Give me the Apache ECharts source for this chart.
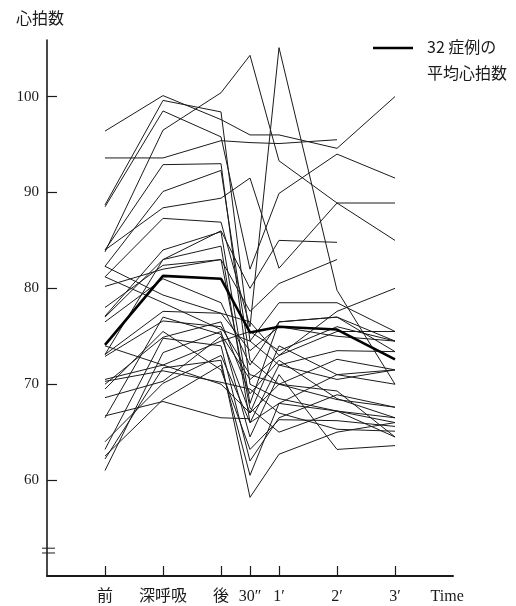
<!DOCTYPE html>
<html>
<head>
<meta charset="utf-8">
<script src="https://cdn.jsdelivr.net/npm/echarts@6/dist/echarts.min.js"></script>
<style>
  html, body { margin: 0; padding: 0; background: #fff; }
  #chart { width: 516px; height: 606px; }
</style>
</head>
<body>
<div id="chart"></div>
<script>
// Measurement times: minutes relative to the end of deep breathing (後 = 0)
const timePoints = [-2, -1, 0, 0.5, 1, 2, 3];
const tickLabels = ['前', '深呼吸', '後', '30″', '1′', '2′', '3′'];
const timeTitle = 'Time';
const timeTitlePos = 3.9;
const yTickValues = [60, 70, 80, 90, 100];

// Mean heart rate over the 32 cases
const meanRate = [74.1, 81.3, 81.0, 75.4, 76.0, 75.7, 72.6];

// Heart rate of each case: 前, 深呼吸, 後, 30″, 1′, 2′, 3′ (null = not measured)
const caseRates = [
  [96.4, 100.1, 97.6, 96.0, 96.0, 94.6, 100.0],
  [88.7, 99.6, 98.4, 74.5, 72.0, 70.5, 71.5],
  [83.8, 96.5, 100.4, 104.3, 93.3, 88.9, 85.0],
  [93.6, 93.6, 95.4, 95.2, 95.1, 95.5, null],
  [88.5, 98.5, 95.8, 82.0, 89.9, 94.0, 91.5],
  [84.0, 92.9, 93.0, 70.0, 68.5, 67.2, 66.0],
  [84.0, 88.4, 89.4, 91.5, 82.1, 88.9, 88.9],
  [82.3, 90.1, 92.3, 72.5, 70.0, 68.4, 67.6],
  [81.2, 87.3, 86.9, 76.0, 105.1, 79.8, 70.0],
  [77.1, 84.0, 85.9, 68.0, 76.5, 77.0, 74.5],
  [73.1, 83.0, 84.4, 66.0, 72.0, 73.5, 73.4],
  [82.3, 79.3, 77.4, 76.5, 73.0, 77.6, 80.0],
  [81.2, 78.5, 75.7, 74.5, 78.5, 78.5, 75.5],
  [80.2, 82.0, 83.0, 67.5, 65.0, 67.2, 66.5],
  [78.0, 82.4, 83.0, 77.6, 80.5, 83.0, null],
  [73.1, 77.6, 77.4, 73.5, 76.0, 75.0, 74.5],
  [72.9, 76.6, 76.0, 71.0, 70.0, 72.6, 71.5],
  [70.3, 71.4, 70.2, 69.5, 67.0, 65.3, 65.1],
  [68.6, 70.3, 75.0, 67.0, 74.0, 71.0, 70.0],
  [66.7, 68.2, 66.5, 66.4, null, null, null],
  [63.2, 74.8, 74.0, 62.0, 66.5, 68.9, 67.6],
  [62.2, 71.7, 72.5, 58.2, 62.7, 65.0, 66.0],
  [61.0, 73.3, 75.5, 64.5, 71.0, 63.2, 63.6],
  [69.5, 75.5, 71.5, 63.2, 66.3, 66.2, 65.6],
  [74.0, 72.0, 70.0, 67.0, 70.0, 69.3, 64.5],
  [70.0, 74.9, 76.5, 69.0, 72.5, 68.5, 66.5],
  [66.5, 77.0, 75.2, 70.5, 73.0, 75.5, 75.5],
  [64.0, 70.1, 73.0, 66.0, 68.0, 71.0, 71.5],
  [76.5, 81.0, 78.5, 72.0, 76.5, 77.0, 73.4],
  [62.5, 68.4, 72.0, 60.5, 68.0, 67.2, 64.5],
  [77.0, 83.0, 86.0, 80.0, 85.0, 84.8, null],
  [70.5, 72.0, 74.5, 75.5, 73.5, 76.0, 74.5]
];

const toPairs = vals => timePoints
  .map((t, i) => [t, vals[i]])
  .filter(p => p[1] !== null);

const ink = '#1b1b1b';
const serif = '"Liberation Serif", "Noto Sans CJK JP", serif';
const cjk = '"Noto Sans CJK JP", sans-serif';

const series = caseRates.map((vals, k) => ({
  name: 'case' + (k + 1),
  type: 'line',
  data: toPairs(vals),
  symbol: 'none',
  silent: true,
  lineStyle: { color: ink, width: 1 },
  z: 2
}));
series.push({
  name: 'mean',
  type: 'line',
  data: toPairs(meanRate),
  symbol: 'none',
  silent: true,
  lineStyle: { color: '#000', width: 2.6 },
  z: 3
});

const chart = echarts.init(document.getElementById('chart'), null, { renderer: 'canvas' });
chart.setOption({
  animation: false,
  backgroundColor: '#fff',
  title: {
    text: '心拍数', left: 11, top: 5,
    textStyle: { fontFamily: cjk, fontSize: 16, fontWeight: 'normal', color: ink }
  },
  grid: { left: 47, right: 63, top: 40, bottom: 30 },
  xAxis: {
    type: 'value', min: -3, max: 4,
    splitLine: { show: false },
    axisLine: { onZero: false, lineStyle: { color: ink, width: 2 } },
    axisTick: {
      customValues: timePoints, inside: true, length: 10,
      lineStyle: { color: ink, width: 1.2 }
    },
    axisLabel: {
      customValues: timePoints.concat([timeTitlePos]),
      margin: 13,
      fontFamily: serif, fontSize: 16, color: ink,
      formatter: v => {
        const i = timePoints.indexOf(v);
        return i >= 0 ? tickLabels[i] : timeTitle;
      }
    }
  },
  yAxis: {
    type: 'value', min: 50, max: 105.9,
    splitLine: { show: false },
    axisLine: { onZero: false, lineStyle: { color: ink, width: 1.6 } },
    axisTick: {
      customValues: yTickValues, inside: true, length: 10,
      lineStyle: { color: ink, width: 1.2 }
    },
    axisLabel: {
      customValues: yTickValues, margin: 8,
      fontFamily: serif, fontSize: 15, color: ink
    }
  },
  series: series
});

// Axis break mark near the bottom of the value axis, plus the legend entry
const p1 = chart.convertToPixel({ gridIndex: 0 }, [-3, 52.9]);
const p2 = chart.convertToPixel({ gridIndex: 0 }, [-3, 52.4]);
chart.setOption({
  graphic: [
    { type: 'line', shape: { x1: p1[0] - 5, y1: p1[1], x2: p1[0] + 8, y2: p1[1] },
      style: { stroke: ink, lineWidth: 1 } },
    { type: 'line', shape: { x1: p2[0] - 5, y1: p2[1], x2: p2[0] + 8, y2: p2[1] },
      style: { stroke: ink, lineWidth: 1 } },
    { type: 'line', shape: { x1: 373, y1: 48, x2: 413, y2: 48 },
      style: { stroke: '#000', lineWidth: 2.4 } },
    { type: 'text', left: 427, top: 39,
      style: { text: '32 症例の', font: '16px ' + cjk, fill: ink } },
    { type: 'text', left: 427, top: 65,
      style: { text: '平均心拍数', font: '16px ' + cjk, fill: ink } }
  ]
});
</script>
</body>
</html>
